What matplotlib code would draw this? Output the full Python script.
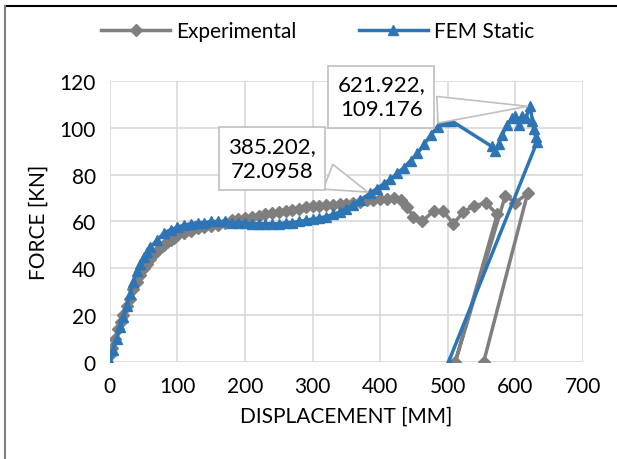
import matplotlib
matplotlib.use("Agg")
import matplotlib.pyplot as plt
from matplotlib.lines import Line2D

plt.rcParams['font.family'] = ['Lato', 'DejaVu Sans']

# Experimental curve
exp_x = [0, 3, 8, 12, 16, 20, 25, 30, 35, 40, 45, 50, 55, 60, 65, 70, 75, 80, 85, 90,
         95, 100, 110, 120, 130, 140, 150, 160, 170, 180, 190, 200, 210, 220, 230, 240,
         250, 260, 270, 280, 290, 300, 310, 320, 330, 340, 350, 360, 370, 380, 390, 400,
         410, 420, 430, 440, 449, 462, 479, 493, 508, 523, 538, 556, 573, 511, 585, 600,
         618, 553]
exp_y = [3, 6, 10, 14, 17, 20, 24, 27, 31, 34, 37, 40, 42, 44, 46, 47.5, 49, 50, 51, 52,
         53, 54, 55, 56, 57, 57.5, 58, 58.5, 59.5, 60.5, 61, 61.5, 62, 62.5, 63, 63.5,
         64, 64.5, 65, 65.5, 66, 66.5, 66.5, 67, 67, 67.5, 67.5, 68, 68.5, 69, 69, 69.5,
         69.5, 70, 69, 66, 62, 60, 64.5, 64.5, 59, 64, 66.5, 68, 63, 0, 71, 68,
         72, 0]

# FEM static curve
fem_x = [0, 5, 10, 15, 20, 25, 30, 35, 40, 45, 50, 55, 60, 70, 80, 90, 100, 110, 120,
         130, 140, 150, 160, 170, 180, 190, 200, 210, 220, 230, 240, 250, 260, 270, 280,
         290, 300, 310, 320, 330, 340, 350, 360, 370, 385.202, 395, 405, 415, 425, 435,
         445, 455, 465, 475, 485, 495, 505, 565, 570, 575, 580, 588, 595, 600, 605, 610,
         615, 621.922, 625, 627, 630, 632, 501]
fem_y = [0, 5, 10, 15, 19, 24, 29, 34, 39, 42, 45, 47, 49, 52, 55, 56.5, 57.5, 58.5, 59,
         59.5, 59.5, 60, 60, 60, 59.5, 59.5, 59.5, 59, 59, 59, 59, 59, 59.5, 59.5, 60,
         60.5, 61, 61.5, 62, 63, 64, 65.5, 67, 69, 72.0958, 74, 76, 78, 80.5, 83,
         86, 89, 93, 97, 100.5, 103, 103, 92, 90, 93, 97, 101, 104, 105, 101, 105,
         104, 109.176, 103, 99.5, 96, 94, 0]

grey = '#7f7f7f'
blue = '#2e75b6'

fig = plt.figure(figsize=(6.17, 4.6), dpi=100)
ax = fig.add_axes([0.178, 0.211, 0.767, 0.611])

ax.plot(exp_x, exp_y, color=grey, lw=2.5, marker='D', ms=6.5, mec=grey, mfc=grey, zorder=3)
ax.plot(fem_x, fem_y, color=blue, lw=2.5, marker='^', ms=7, mec=blue, mfc=blue, zorder=4)

ax.set_xlim(0, 700)
ax.set_ylim(0, 120)
ax.set_xticks(range(0, 701, 100))
ax.set_yticks(range(0, 121, 20))
ax.grid(True, color='#d9d9d9', lw=1.2)
ax.set_axisbelow(True)
for s in ax.spines.values():
    s.set_visible(False)
ax.tick_params(length=0, labelsize=15, pad=10, colors='black')
ax.set_xlabel('DISPLACEMENT [MM]', fontsize=15, labelpad=7)
ax.set_ylabel('FORCE [KN]', fontsize=15, labelpad=8)

# data callouts
for px, py, tx, ty in [(385.202, 72.0958, 240, 86.8), (621.922, 109.176, 401.5, 113.2)]:
    ax.annotate('%g,\n%g' % (px, py), xy=(px, py), xytext=(tx, ty), fontsize=16,
                ha='center', va='center', linespacing=1.3, zorder=6,
                bbox=dict(boxstyle='square,pad=0.4', fc='white', ec='#bfbfbf', lw=1.2),
                arrowprops=dict(arrowstyle='wedge,tail_width=1.2,shrink_factor=0.5',
                                fc='white', ec='#bfbfbf', lw=1.2, relpos=(1, 0.2)))

handles = [Line2D([], [], color=grey, lw=2.5, marker='D', ms=6.5),
           Line2D([], [], color=blue, lw=2.5, marker='^', ms=7)]
fig.legend(handles, ['Experimental', 'FEM Static'], loc='center', ncol=2,
           bbox_to_anchor=(0.515, 0.93), frameon=False, fontsize=15,
           handlelength=3.3, columnspacing=3.0, handletextpad=0.3)

# partial outer frame
fig.add_artist(Line2D([5 / 617, 1], [1 - 7 / 460, 1 - 7 / 460], color='black', lw=1.5))
fig.add_artist(Line2D([5 / 617, 5 / 617], [0, 1 - 7 / 460], color='#808080', lw=1.5))

fig.savefig('out.png', dpi=100)
